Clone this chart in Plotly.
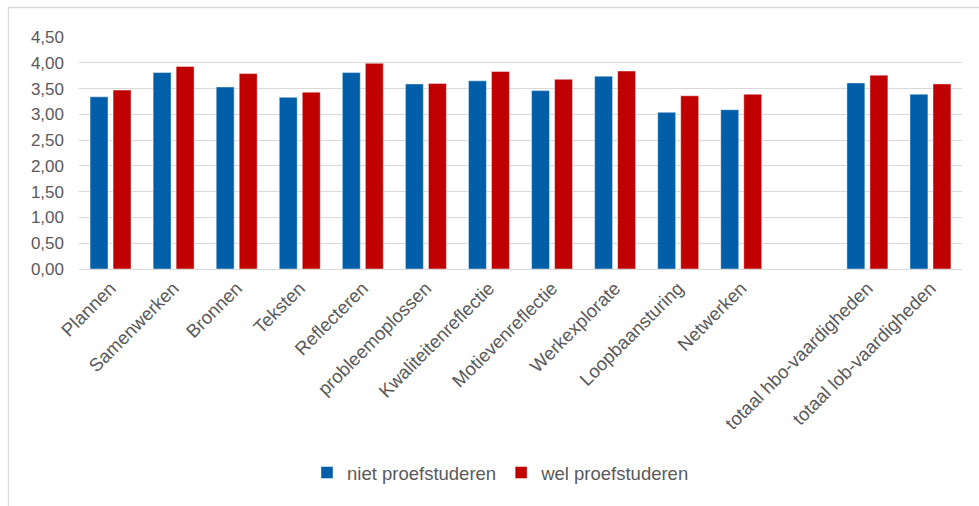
import plotly.graph_objects as go

# Categories (the blank entry keeps an empty slot before the totals)
categories = [
    "Plannen", "Samenwerken", "Bronnen", "Teksten", "Reflecteren",
    "probleemoplossen", "Kwaliteitenreflectie", "Motievenreflectie",
    "Werkexplorate", "Loopbaansturing", "Netwerken", " ",
    "totaal hbo-vaardigheden", "totaal lob-vaardigheden",
]
niet_proefstuderen = [3.34, 3.81, 3.53, 3.33, 3.81, 3.59, 3.65, 3.46,
                      3.74, 3.04, 3.09, None, 3.61, 3.39]
wel_proefstuderen = [3.47, 3.93, 3.79, 3.43, 3.99, 3.60, 3.83, 3.68,
                     3.84, 3.36, 3.39, None, 3.76, 3.59]
y_ticks = [0, 0.5, 1.0, 1.5, 2.0, 2.5, 3.0, 3.5, 4.0, 4.5]

BLUE = "#005FA8"
RED = "#C00000"
GRID = "#D9D9D9"
TEXT = "#595959"
FONT = "Liberation Sans, Arial, sans-serif"

W, H = 979, 506
L, R, T, B = 79, 17, 37, 237

fig = go.Figure()
fig.add_trace(go.Bar(
    x=categories, y=niet_proefstuderen, name="niet proefstuderen",
    marker=dict(color=BLUE, line=dict(color="rgba(255,255,255,0.45)", width=1)),
))
fig.add_trace(go.Bar(
    x=categories, y=wel_proefstuderen, name="wel proefstuderen",
    marker=dict(color=RED, line=dict(color="rgba(255,255,255,0.45)", width=1)),
))

# outer chart frame, expressed in paper coordinates
pw, ph = W - L - R, H - T - B
def px_x(p):
    return (p - L) / pw
def px_y(p):
    return (H - B - p) / ph

fig.add_shape(type="rect", xref="paper", yref="paper",
              x0=px_x(8.5), x1=px_x(W + 5), y0=px_y(7.5), y1=px_y(H + 5),
              line=dict(color=GRID, width=1.3), fillcolor="rgba(0,0,0,0)",
              layer="below")

fig.update_layout(
    width=W, height=H,
    margin=dict(l=L, r=R, t=T, b=B),
    paper_bgcolor="white", plot_bgcolor="white",
    barmode="group", bargap=0.27, bargroupgap=0.22,
    separators=",.",
    font=dict(family=FONT, size=17, color=TEXT),
    showlegend=True,
    legend=dict(orientation="h", x=px_x(307), xanchor="left",
                y=px_y(473), yanchor="middle",
                font=dict(size=18.5, color=TEXT), itemwidth=30,
                traceorder="normal", tracegroupgap=0),
    xaxis=dict(type="category", tickangle=-45, showgrid=False,
               showline=True, linecolor=GRID, linewidth=1.3,
               ticks="", tickfont=dict(size=18.5, color=TEXT)),
    yaxis=dict(range=[0, 4.5], tickvals=y_ticks, tickformat=".2f",
               showgrid=True, gridcolor=GRID, gridwidth=1.3,
               zeroline=False, showline=False, ticks="",
               ticklabelstandoff=14, tickfont=dict(size=17, color=TEXT)),
)

fig.write_html("out.html")
